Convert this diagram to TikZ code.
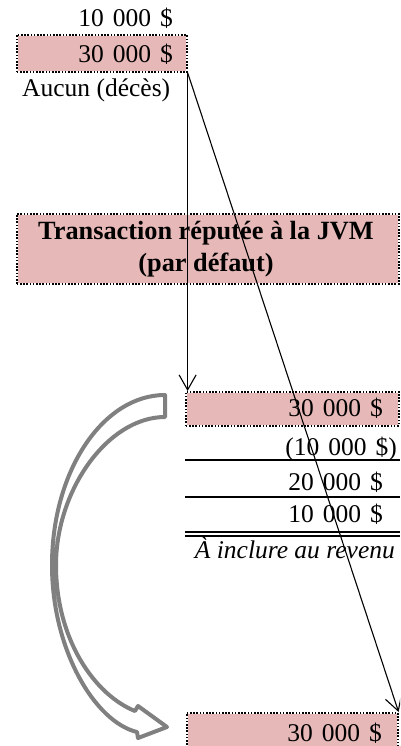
\documentclass[tikz,border=0pt]{standalone}
\usepackage{fontspec}
\setmainfont{Liberation Serif}
\usetikzlibrary{arrows.meta}
\definecolor{boxpink}{HTML}{E6B8B7}
\definecolor{arrowgray}{HTML}{808080}
\newcommand\nsp{\hspace{0.35em}}
\begin{document}
\begin{tikzpicture}[x=1pt,y=-1pt,
  pinkbox/.style={fill=boxpink, draw=white, line width=1.6pt, inner sep=0pt, anchor=north west,
    postaction={draw=black, dash pattern=on 1.6pt off 1.6pt, line width=1.6pt}},
  lbl/.style={inner sep=0pt, font=\fontsize{25.5}{31}\selectfont},
  rlbl/.style={lbl, anchor=base east},
  conn/.style={draw=black, line width=1.1pt, -{Straight Barb[length=15pt,width=17pt,line width=1.1pt]}},
  rule/.style={draw=black, line width=1.5pt},
  grayarrow/.style={draw=arrowgray, line width=4pt, line join=round, fill=white}
]
\clip (0,0) rectangle (400,746);
\fill[white] (0,0) rectangle (400,746);

% top group
\node[rlbl] (v1) at (173,27) {10\nsp000\nsp\$};
\node[pinkbox, minimum width=170pt, minimum height=37pt] (topbox) at (16,34) {};
\node[rlbl] (v2) at (173,63) {30\nsp000\nsp\$};
\node[lbl, anchor=base west] (aucun) at (22,97) {Aucun (décès)};

% title box
\node[pinkbox, minimum width=382pt, minimum height=70pt] (title) at (16,213) {};
\node[lbl, font=\fontsize{26.3}{32}\selectfont\bfseries, align=center, anchor=center] (titletxt) at (206,249)
  {Transaction réputée à la JVM\\(par défaut)};

% middle group
\node[pinkbox, minimum width=213pt, minimum height=34pt] (midbox) at (185,391) {};
\node[rlbl] (m1) at (383,416) {30\nsp000\nsp\$};
\node[rlbl] (m2) at (397,455) {(10\nsp000\nsp\$)};
\coordinate (r1a) at (185,460); \coordinate (r1b) at (400,460);
\draw[rule] (r1a) -- (r1b);
\node[rlbl] (m3) at (383,490) {20\nsp000\nsp\$};
\coordinate (r2a) at (185,497); \coordinate (r2b) at (400,497);
\draw[rule] (r2a) -- (r2b);
\node[rlbl] (m4) at (383,522) {10\nsp000\nsp\$};
\coordinate (r3a) at (185,532); \coordinate (r3b) at (400,532);
\coordinate (r4a) at (185,536); \coordinate (r4b) at (400,536);
\draw[rule] (r3a) -- (r3b);
\draw[rule] (r4a) -- (r4b);
\node[lbl, anchor=base east, font=\fontsize{25.5}{31}\selectfont\itshape] (incl) at (395,558) {À inclure au revenu};

% bottom box
\node[pinkbox, minimum width=211pt, minimum height=50pt] (botbox) at (186,712) {};
\node[rlbl] (b1) at (382,741) {30\nsp000\nsp\$};

% gray curved arrow
\draw[grayarrow] (165,395) -- (165,417)
  .. controls (108,417) and (56,490) .. (56,565)
  .. controls (56,640) and (95,695) .. (135,711)
  -- (138,706) -- (167,727) -- (138,738) -- (137,732)
  .. controls (95,722) and (52,650) .. (52,565)
  .. controls (52,471) and (103,395) .. cycle;

% connectors
\draw[conn] (topbox.south east) -- (topbox.south east |- midbox.north);
\draw[conn] (topbox.south east) -- (botbox.north east);
\end{tikzpicture}
\end{document}
